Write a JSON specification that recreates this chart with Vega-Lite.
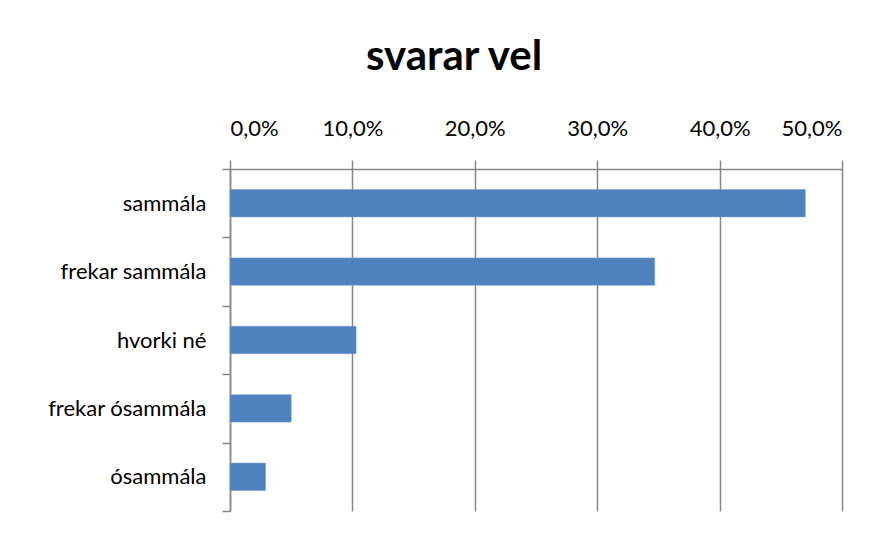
{
  "$schema": "https://vega.github.io/schema/vega-lite/v6.json",
  "width": 612,
  "height": 342,
  "autosize": "none",
  "padding": {"left": 230, "top": 169, "right": 45, "bottom": 23},
  "background": "white",
  "title": {
    "text": "svarar vel",
    "font": "Lato",
    "fontSize": 42,
    "fontWeight": "bold",
    "color": "#000000",
    "anchor": "middle",
    "baseline": "alphabetic",
    "offset": 5,
    "dx": -82
  },
  "data": {
    "values": [
      {"svar": "sammála", "hlutfall": 0.470},
      {"svar": "frekar sammála", "hlutfall": 0.347},
      {"svar": "hvorki né", "hlutfall": 0.103},
      {"svar": "frekar ósammála", "hlutfall": 0.050},
      {"svar": "ósammála", "hlutfall": 0.029}
    ]
  },
  "mark": {"type": "bar", "color": "#4F81BD", "height": {"band": 0.4}, "stroke": "#7a9fd0", "strokeWidth": 0.6},
  "encoding": {
    "y": {
      "field": "svar",
      "type": "nominal",
      "sort": null,
      "scale": {"paddingInner": 0, "paddingOuter": 0},
      "axis": {
        "title": null,
        "tickBand": "extent",
        "tickSize": 8,
        "tickColor": "#868686",
        "tickWidth": 1.5,
        "domainColor": "#868686",
        "domainWidth": 1.5,
        "labelFont": "Lato",
        "labelFontSize": 22,
        "labelColor": "#000000",
        "labelPadding": 16,
        "grid": false
      }
    },
    "x": {
      "field": "hlutfall",
      "type": "quantitative",
      "scale": {"domain": [0, 0.5], "nice": false},
      "axis": {
        "orient": "top",
        "title": null,
        "values": [0, 0.1, 0.2, 0.3, 0.4, 0.5],
        "labelExpr": "replace(format(datum.value, '.1%'), '.', ',')",
        "labelFont": "Lato",
        "labelFontSize": 22,
        "labelColor": "#000000",
        "labelPadding": 20,
        "tickSize": 9,
        "tickColor": "#868686",
        "tickWidth": 1.5,
        "domainColor": "#868686",
        "domainWidth": 1.5,
        "grid": true,
        "gridColor": "#868686",
        "gridWidth": 1.5,
        "gridOpacity": 1
      }
    }
  },
  "config": {"view": {"stroke": null}}
}
